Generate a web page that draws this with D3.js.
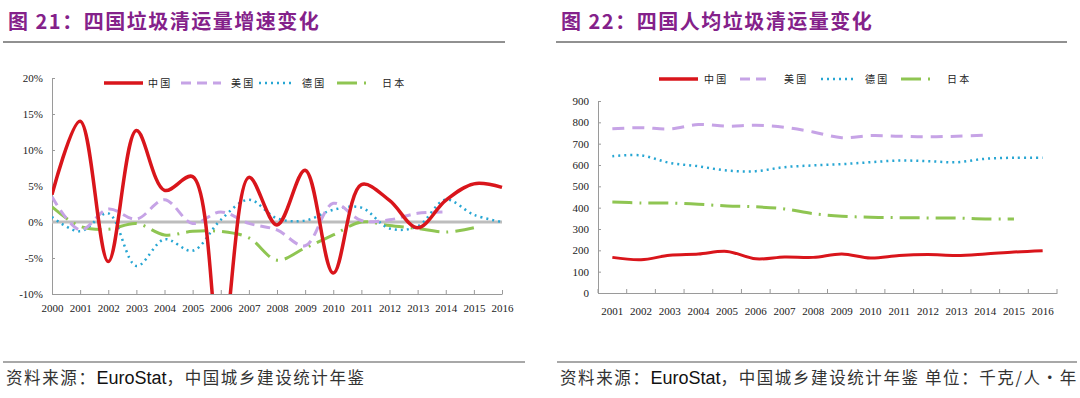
<!DOCTYPE html>
<html>
<head>
<meta charset="utf-8">
<script src="https://cdn.jsdelivr.net/npm/d3@7"></script>
<style>
  body { margin: 0; background: #fff; }
  .axis text { font-family: "Liberation Serif", serif; font-size: 11px; fill: #222; }
  .axis path, .axis line { stroke: #9a9a9a; }
  .title { font-family: "Noto Sans CJK SC", sans-serif; font-weight: 700; font-size: 20px; fill: #84218a; letter-spacing: 1.5px; }
  .legend text { font-family: "Noto Sans CJK SC", serif; font-size: 10px; fill: #222; }
  .foot { font-family: "Noto Sans CJK SC", sans-serif; font-size: 16.5px; fill: #333; letter-spacing: 1.6px; }
</style>
</head>
<body>
<script>
// chart 21 - growth rate, %
var years1 = ["2000","2001","2002","2003","2004","2005","2006","2007","2008","2009","2010","2011","2012","2013","2014","2015","2016"];
var cnGrowth = [3.8, 14.0, -5.5, 12.7, 4.4, 6.3, -18, 6.2, -0.4, 7.2, -7.1, 5.2, 3.0, -0.8, 3.0, 5.3, 4.8];
var usGrowth = [3.5, -1.1, 1.8, 0.4, 3.1, -0.2, 1.4, -0.2, -1.1, -3.3, 2.6, 0.2, 0.3, 1.2, 1.4];
var deGrowth = [0.7, -1.3, 1.2, -6.1, -2.4, -4.0, 0.3, 3.1, 0.5, 0.2, 1.7, 2.0, -0.9, -0.6, 3.1, 1.0, 0.0];
var jpGrowth = [2.1, -0.6, -1.0, -0.2, -1.8, -1.3, -1.3, -2.2, -5.3, -3.6, -1.8, 0.0, -0.5, -0.9, -1.4, -0.8];
var growthTicks = [-10, -5, 0, 5, 10, 15, 20];

// chart 22 - per capita, kg/person/year
var years2 = ["2001","2002","2003","2004","2005","2006","2007","2008","2009","2010","2011","2012","2013","2014","2015","2016"];
var cnPer = [167, 156, 177, 183, 195, 160, 169, 167, 183, 164, 176, 180, 176, 183, 192, 198];
var usPer = [770, 775, 769, 790, 782, 786, 777, 755, 728, 738, 735, 732, 735, 740];
var dePer = [641, 645, 610, 594, 574, 571, 590, 598, 604, 613, 621, 618, 613, 629, 634, 634];
var jpPer = [427, 422, 422, 416, 408, 404, 394, 372, 360, 355, 353, 352, 351, 347, 347];
var perTicks = [0, 100, 200, 300, 400, 500, 600, 700, 800, 900];

var countries = ["中国", "美国", "德国", "日本"];

var styles = {
  "中国": {color: "#d9151b", dash: null, w: 3.5},
  "美国": {color: "#c6a3e6", dash: "10,6", w: 3},
  "德国": {color: "#27a6d3", dash: "2,4", w: 2.5},
  "日本": {color: "#8fc552", dash: "20,7,2,7", w: 3}
};

var svg = d3.select("body").append("svg")
    .attr("width", 1080)
    .attr("height", 398);

svg.append("rect").attr("width", 1080).attr("height", 398).attr("fill", "#fff");

function header(x0, x1, label) {
  svg.append("text").attr("class", "title")
      .attr("x", x0 + 5).attr("y", 29)
      .text(label);
  svg.append("line")
      .attr("x1", x0).attr("x2", x1).attr("y1", 42).attr("y2", 42)
      .attr("stroke", "#222").attr("stroke-width", 1);
}

function footer(x0, x1, extra) {
  svg.append("line")
      .attr("x1", x0).attr("x2", x1).attr("y1", 362).attr("y2", 362)
      .attr("stroke", "#a8a8a8").attr("stroke-width", 2);
  var t = svg.append("text").attr("class", "foot").attr("x", x0 + 3).attr("y", 384);
  t.append("tspan").text("资料来源：");
  t.append("tspan").attr("font-family", "Liberation Sans, Arial, sans-serif").attr("font-size", 18)
      .attr("letter-spacing", 0).attr("fill", "#111").text("EuroStat");
  t.append("tspan").text("，中国城乡建设统计年鉴" + extra);
}

function legend(g, items) {
  items.forEach(function(it) {
    var s = styles[it.name];
    g.append("line")
        .attr("x1", it.x0).attr("x2", it.x1).attr("y1", it.y).attr("y2", it.y)
        .attr("stroke", s.color).attr("stroke-width", s.w)
        .attr("stroke-dasharray", s.dash);
    g.append("text").attr("x", it.tx).attr("y", it.y + 3.5).text(it.name.split("").join(" "));
  });
}

// ---------- chart 21 ----------
header(3, 505, "图 21：四国垃圾清运量增速变化");
footer(3, 525, "");

var x1 = d3.scalePoint().domain(years1).range([52, 502]);
var y1 = d3.scaleLinear().domain([-10, 20]).range([294, 78]);

svg.append("clipPath").attr("id", "clip1")
  .append("rect").attr("x", 52).attr("y", 70).attr("width", 452).attr("height", 224);

svg.append("g").attr("class", "axis")
    .attr("transform", "translate(52,0)")
    .call(d3.axisLeft(y1).tickValues(growthTicks).tickSizeInner(-3).tickSizeOuter(0).tickPadding(9)
      .tickFormat(function(d) { return d + "%"; }));

svg.append("g").attr("class", "axis")
    .attr("transform", "translate(0,294)")
    .call(d3.axisBottom(x1).tickSizeInner(-4).tickSizeOuter(0).tickPadding(10));

svg.append("line")
    .attr("x1", 52).attr("x2", 502).attr("y1", y1(0)).attr("y2", y1(0))
    .attr("stroke", "#bdbdbd").attr("stroke-width", 3);

var line1 = d3.line()
    .x(function(d, i) { return x1(years1[i]); })
    .y(function(d) { return y1(d); })
    .curve(d3.curveCatmullRom.alpha(0.5));

var series1 = [
  {name: "日本", values: jpGrowth},
  {name: "德国", values: deGrowth},
  {name: "美国", values: usGrowth},
  {name: "中国", values: cnGrowth}
];

svg.append("g").attr("clip-path", "url(#clip1)")
  .selectAll("path").data(series1).enter()
  .append("path")
    .attr("d", function(d) { return line1(d.values); })
    .attr("fill", "none")
    .attr("stroke", function(d) { return styles[d.name].color; })
    .attr("stroke-width", function(d) { return styles[d.name].w; })
    .attr("stroke-dasharray", function(d) { return styles[d.name].dash; });

legend(svg.append("g").attr("class", "legend"), [
  {name: "中国", x0: 104, x1: 143, tx: 148, y: 83},
  {name: "美国", x0: 181, x1: 221, tx: 231, y: 83},
  {name: "德国", x0: 259, x1: 294, tx: 302, y: 83},
  {name: "日本", x0: 337, x1: 368, tx: 382, y: 83}
]);

// ---------- chart 22 ----------
header(556, 1067, "图 22：四国人均垃圾清运量变化");
footer(557, 1077, " 单位：千克/人·年");

var x2 = d3.scaleBand().domain(years2).range([598, 1057]);
var y2 = d3.scaleLinear().domain([0, 900]).range([293, 101]);

svg.append("g").attr("class", "axis")
    .attr("transform", "translate(598,0)")
    .call(d3.axisLeft(y2).tickValues(perTicks).tickSizeInner(-3).tickSizeOuter(0).tickPadding(9));

var xAxis2 = svg.append("g").attr("class", "axis")
    .attr("transform", "translate(0,293)")
    .call(d3.axisBottom(x2).tickSize(0).tickPadding(14));

xAxis2.selectAll(".edge")
    .data(years2.map(function(y) { return x2(y); }).concat([x2.range()[1]]))
    .enter().append("line").attr("class", "edge")
    .attr("x1", function(d) { return d; }).attr("x2", function(d) { return d; })
    .attr("y1", 0).attr("y2", -4);

var line2 = d3.line()
    .x(function(d, i) { return x2(years2[i]) + x2.bandwidth() / 2; })
    .y(function(d) { return y2(d); })
    .curve(d3.curveCatmullRom.alpha(0.5));

var series2 = [
  {name: "日本", values: jpPer},
  {name: "德国", values: dePer},
  {name: "美国", values: usPer},
  {name: "中国", values: cnPer}
];

svg.append("g").selectAll("path").data(series2).enter()
  .append("path")
    .attr("d", function(d) { return line2(d.values); })
    .attr("fill", "none")
    .attr("stroke", function(d) { return styles[d.name].color; })
    .attr("stroke-width", function(d) { return d.name === "中国" ? 3 : styles[d.name].w; })
    .attr("stroke-dasharray", function(d) { return d.name === "美国" ? "12,8" : styles[d.name].dash; });

legend(svg.append("g").attr("class", "legend"), [
  {name: "中国", x0: 659, x1: 698, tx: 704, y: 79},
  {name: "美国", x0: 740, x1: 768, tx: 784, y: 79},
  {name: "德国", x0: 821, x1: 856, tx: 865, y: 79},
  {name: "日本", x0: 901, x1: 935, tx: 947, y: 79}
]);
</script>
</body>
</html>
